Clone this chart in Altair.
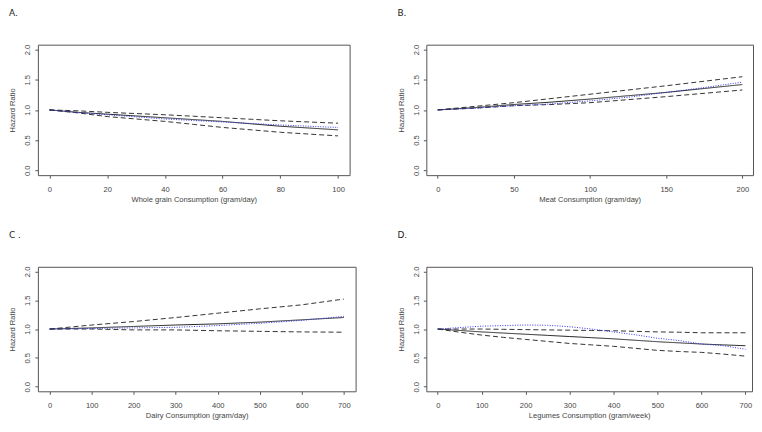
import altair as alt
import pandas as pd

# ---- data ----
a_x = [0, 10, 20, 30, 40, 50, 60, 70, 80, 90, 100]
a_hr = [1.0, 0.96, 0.93, 0.90, 0.87, 0.84, 0.81, 0.77, 0.73, 0.70, 0.67]
a_up = [1.0, 0.985, 0.96, 0.94, 0.92, 0.895, 0.87, 0.845, 0.82, 0.80, 0.78]
a_lo = [1.0, 0.95, 0.89, 0.85, 0.81, 0.76, 0.71, 0.67, 0.63, 0.60, 0.57]
a_sp = [1.0, 0.955, 0.92, 0.885, 0.85, 0.825, 0.80, 0.775, 0.75, 0.73, 0.71]

b_x = [0, 25, 50, 75, 100, 125, 150, 175, 200]
b_hr = [1.0, 1.04, 1.09, 1.13, 1.18, 1.235, 1.29, 1.355, 1.42]
b_up = [1.0, 1.06, 1.12, 1.19, 1.26, 1.33, 1.40, 1.475, 1.55]
b_lo = [1.0, 1.03, 1.07, 1.09, 1.12, 1.17, 1.22, 1.275, 1.33]
b_sp = [1.0, 1.03, 1.07, 1.10, 1.15, 1.21, 1.29, 1.37, 1.46]

c_x = [0, 100, 200, 300, 400, 500, 600, 700]
c_hr = [1.0, 1.02, 1.045, 1.07, 1.09, 1.12, 1.16, 1.20]
c_up = [1.0, 1.07, 1.13, 1.20, 1.275, 1.35, 1.42, 1.52]
c_lo = [1.0, 1.0, 0.985, 0.985, 0.97, 0.96, 0.95, 0.945]
c_sp = [1.0, 1.01, 1.02, 1.03, 1.06, 1.10, 1.15, 1.22]

d_x = [0, 50, 100, 150, 200, 250, 300, 350, 400, 450, 500, 550, 600, 650, 700]
d_hr = [1.0, 0.975, 0.95, 0.93, 0.91, 0.89, 0.87, 0.85, 0.83, 0.805, 0.78, 0.76, 0.74, 0.725, 0.71]
d_up = [1.0, 1.0, 1.0, 0.995, 0.99, 0.985, 0.98, 0.975, 0.97, 0.96, 0.95, 0.945, 0.935, 0.935, 0.935]
d_lo = [1.0, 0.945, 0.895, 0.855, 0.82, 0.785, 0.75, 0.725, 0.70, 0.665, 0.63, 0.61, 0.595, 0.565, 0.53]
d_sp = [1.0, 1.025, 1.05, 1.06, 1.07, 1.065, 1.04, 1.0, 0.95, 0.90, 0.84, 0.80, 0.74, 0.71, 0.65]

y_ticks = [0, 0.5, 1.0, 1.5, 2.0]
series = ["upper", "lower", "hr", "spline"]
series_colors = ["#333333", "#333333", "#222222", "#3535e8"]
series_dash = [[5, 3], [5, 3], [1, 0], [1, 1.5]]


def panel(label, xs, hr, up, lo, sp, xdom, xticks, xtitle, w, h):
    rows = []
    for name, vals in zip(series, [up, lo, hr, sp]):
        for xv, yv in zip(xs, vals):
            rows.append({"x": xv, "y": yv, "s": name})
    df = pd.DataFrame(rows)
    return alt.Chart(df).mark_line(strokeWidth=1, clip=True).encode(
        x=alt.X("x:Q", scale=alt.Scale(domain=xdom, nice=False, zero=False),
                axis=alt.Axis(values=xticks, title=xtitle, format="d")),
        y=alt.Y("y:Q", scale=alt.Scale(domain=[-0.08, 2.08], nice=False, zero=False),
                axis=alt.Axis(values=y_ticks, format=".1f", title="Hazard Ratio")),
        color=alt.Color("s:N", scale=alt.Scale(domain=series, range=series_colors), legend=None),
        strokeDash=alt.StrokeDash("s:N", scale=alt.Scale(domain=series, range=series_dash), legend=None),
    ).properties(width=w, height=h, title=alt.TitleParams(label, anchor="start"))


pa = panel("A.", a_x, a_hr, a_up, a_lo, a_sp, [-4, 104], [0, 20, 40, 60, 80, 100],
           "Whole grain Consumption (gram/day)", 313, 131)
pb = panel("B.", b_x, b_hr, b_up, b_lo, b_sp, [-7.5, 207], [0, 50, 100, 150, 200],
           "Meat Consumption (gram/day)", 328, 131)
pc = panel("C .", c_x, c_hr, c_up, c_lo, c_sp, [-28, 728], [0, 100, 200, 300, 400, 500, 600, 700],
           "Dairy Consumption (gram/day)", 319, 125)
pd_ = panel("D.", d_x, d_hr, d_up, d_lo, d_sp, [-26, 715], [0, 100, 200, 300, 400, 500, 600, 700],
            "Legumes Consumption (gram/week)", 327, 125)

chart = alt.concat(pa, pb, pc, pd_, columns=2, spacing={"row": 26, "column": 40}).properties(
    padding={"left": 0, "top": 0, "right": 0, "bottom": 0}
).configure_view(
    stroke="#555555", strokeWidth=1
).configure_axis(
    grid=False, domain=False, tickSize=3, tickColor="#555555",
    labelFont="Liberation Sans", labelFontSize=7.6, labelColor="#444444",
    titleFont="Liberation Sans", titleFontSize=7.6, titleColor="#444444", titleFontWeight="normal",
).configure_axisX(
    labelPadding=7, titlePadding=3,
).configure_axisY(
    labelAngle=270, labelAlign="center", labelBaseline="bottom", labelPadding=3, titlePadding=7,
).configure_title(
    font="DejaVu Sans", fontSize=9, color="#222222", fontWeight="normal", anchor="start", offset=26,
)

chart.save("out.html", embed_options={"renderer": "svg", "actions": False})
